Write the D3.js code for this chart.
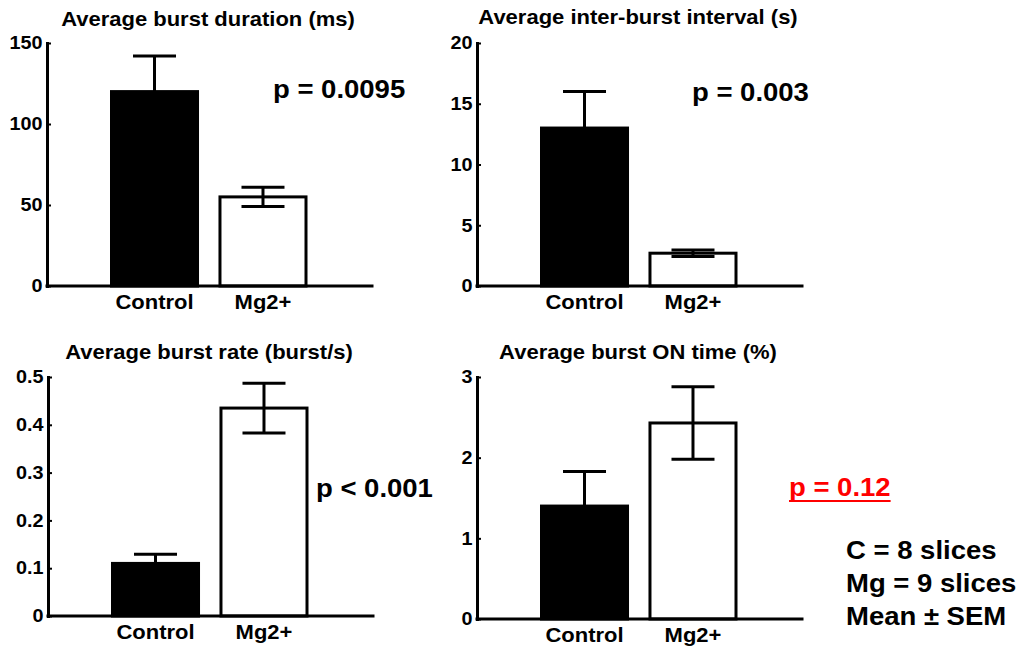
<!DOCTYPE html>
<html>
<head>
<meta charset="utf-8">
<script src="https://cdn.jsdelivr.net/npm/d3@7"></script>
<style>
  html, body { margin: 0; padding: 0; background: #fff; }
  svg { display: block; font-family: "Liberation Sans", Arial, sans-serif; font-weight: bold; }
</style>
</head>
<body>
<svg id="chart" width="1021" height="647"></svg>
<script>
// Groups compared in every panel
const categories = ["Control", "Mg2+"];

// Burst statistics, mean and SEM for each group
const durationMean = [120, 55];      // ms
const durationSem  = [22, 6];
const intervalMean = [13, 2.7];      // s
const intervalSem  = [3, 0.27];
const rateMean     = [0.11, 0.435];  // burst/s
const rateSem      = [0.019, 0.052];
const onTimeMean   = [1.4, 2.43];    // %
const onTimeSem    = [0.43, 0.45];

// Axis ticks
const durationTicks = [0, 50, 100, 150];
const intervalTicks = [0, 5, 10, 15, 20];
const rateTicks     = [0, 0.1, 0.2, 0.3, 0.4, 0.5];
const onTimeTicks   = [0, 1, 2, 3];
const rateTickLabels = ["0", "0.1", "0.2", "0.3", "0.4", "0.5"];

// Panel titles and significance labels
const titles = [
  "Average burst duration (ms)",
  "Average inter-burst interval (s)",
  "Average burst rate (burst/s)",
  "Average burst ON time (%)"
];
const pLabels = ["p = 0.0095", "p = 0.003", "p < 0.001", "p = 0.12"];
const noteLines = ["C = 8 slices", "Mg = 9 slices", "Mean \u00b1 SEM"];

const svg = d3.select("#chart");
const STRETCH = 1.1;   // the typeface is set slightly wide

function wideText(g, x, y, str, size, anchor, color) {
  return g.append("text")
    .attr("transform", `translate(${x},${y}) scale(${STRETCH},1)`)
    .attr("text-anchor", anchor || "start")
    .attr("font-size", size)
    .attr("fill", color || "#000")
    .text(str);
}

const panels = [
  { mean: durationMean, sem: durationSem, ticks: durationTicks, max: 150,
    axisX: 47, top: 43, bottom: 286, titleY: 26,
    pX: 273, pY: 98 },
  { mean: intervalMean, sem: intervalSem, ticks: intervalTicks, max: 20,
    axisX: 477, top: 43, bottom: 286, titleY: 24,
    pX: 692, pY: 101 },
  { mean: rateMean, sem: rateSem, ticks: rateTicks, max: 0.5, labels: rateTickLabels,
    axisX: 48, top: 377, bottom: 616, titleY: 359,
    pX: 316, pY: 497 },
  { mean: onTimeMean, sem: onTimeSem, ticks: onTimeTicks, max: 3,
    axisX: 477, top: 377, bottom: 619, titleY: 359,
    pX: 789, pY: 496, pColor: "#ff0000", underline: true }
];

panels.forEach((p, i) => {
  const g = svg.append("g");

  const y = d3.scaleLinear().domain([0, p.max]).range([p.bottom, p.top]);
  const x = d3.scaleBand()
    .domain(categories)
    .range([p.axisX + 64.5, p.axisX + 259])
    .paddingInner(0.207)
    .paddingOuter(0);

  // Bars
  g.selectAll("rect.bar")
    .data(categories)
    .join("rect")
    .attr("class", "bar")
    .attr("x", c => x(c))
    .attr("width", x.bandwidth())
    .attr("y", (c, k) => y(p.mean[k]))
    .attr("height", (c, k) => y(0) - y(p.mean[k]))
    .attr("fill", (c, k) => k === 0 ? "#000" : "#fff")
    .attr("stroke", "#000")
    .attr("stroke-width", 3);

  // SEM error bars
  const capHalf = 21.5;
  const eb = g.selectAll("g.err")
    .data(categories)
    .join("g")
    .attr("class", "err")
    .attr("stroke", "#000")
    .attr("stroke-width", 3);
  eb.append("line")
    .attr("x1", c => x(c) + x.bandwidth() / 2)
    .attr("x2", c => x(c) + x.bandwidth() / 2)
    .attr("y1", (c, k) => y(p.mean[k] - p.sem[k]))
    .attr("y2", (c, k) => y(p.mean[k] + p.sem[k]));
  [1, -1].forEach(sgn => {
    eb.append("line")
      .attr("x1", c => x(c) + x.bandwidth() / 2 - capHalf)
      .attr("x2", c => x(c) + x.bandwidth() / 2 + capHalf)
      .attr("y1", (c, k) => y(p.mean[k] + sgn * p.sem[k]))
      .attr("y2", (c, k) => y(p.mean[k] + sgn * p.sem[k]));
  });

  // Y axis
  const yAxis = d3.axisLeft(y)
    .tickValues(p.ticks)
    .tickSizeInner(-4)
    .tickSizeOuter(0)
    .tickPadding(4)
    .tickFormat((d, k) => p.labels ? p.labels[k] : String(d));
  const ya = g.append("g")
    .attr("transform", `translate(${p.axisX},0)`)
    .call(yAxis);
  ya.select(".domain").attr("stroke", "#000").attr("stroke-width", 3)
    .attr("stroke-linecap", "square");
  ya.selectAll(".tick line").attr("stroke", "#000").attr("stroke-width", 2);
  ya.selectAll(".tick text")
    .attr("font-size", 18)
    .attr("font-family", "'Liberation Sans', Arial, sans-serif")
    .attr("font-weight", "bold")
    .attr("fill", "#000")
    .attr("transform", `scale(${STRETCH},1)`);

  // X axis: baseline plus category labels
  g.append("line")
    .attr("x1", p.axisX).attr("x2", p.axisX + 325)
    .attr("y1", p.bottom).attr("y2", p.bottom)
    .attr("stroke", "#000").attr("stroke-width", 3)
    .attr("stroke-linecap", "square");
  const xa = g.append("g")
    .attr("transform", `translate(0,${p.bottom})`)
    .call(d3.axisBottom(x).tickSize(0).tickPadding(9));
  xa.select(".domain").remove();
  xa.selectAll(".tick text")
    .attr("font-size", 20)
    .attr("font-family", "'Liberation Sans', Arial, sans-serif")
    .attr("font-weight", "bold")
    .attr("fill", "#000")
    .attr("transform", `scale(${STRETCH},1)`);

  // Title
  wideText(g, p.axisX + 161, p.titleY, titles[i], 20, "middle");

  // Significance label
  const t = wideText(g, p.pX, p.pY, pLabels[i], 25, "start", p.pColor);
  if (p.underline) {
    const w = t.node().getComputedTextLength() * STRETCH;
    g.append("line")
      .attr("x1", p.pX).attr("x2", p.pX + w)
      .attr("y1", p.pY + 5).attr("y2", p.pY + 5)
      .attr("stroke", p.pColor).attr("stroke-width", 2);
  }
});

// Sample sizes note
noteLines.forEach((line, k) => {
  wideText(svg, 846, 559 + k * 33, line, 25, "start");
});
</script>
</body>
</html>
